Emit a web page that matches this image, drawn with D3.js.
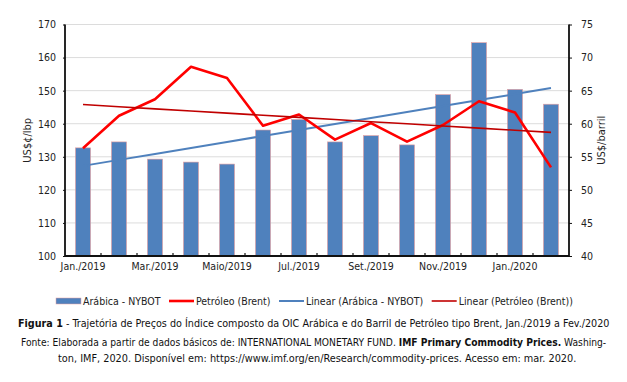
<!DOCTYPE html>
<html>
<head>
<meta charset="utf-8">
<script src="https://cdn.jsdelivr.net/npm/d3@7"></script>
<style>
  body { margin: 0; background: #fff; }
  svg { display: block; font-family: "DejaVu Sans", sans-serif; font-stretch: condensed; }
</style>
</head>
<body>
<div id="chart"></div>
<script>
(function() {
  'use strict';

  var months = ['Jan./2019', 'Fev./2019', 'Mar./2019', 'Abr./2019', 'Maio/2019', 'Jun./2019', 'Jul./2019',
                'Ago./2019', 'Set./2019', 'Out./2019', 'Nov./2019', 'Dez./2019', 'Jan./2020', 'Fev./2020'];
  var arabica = [132.7, 134.5, 129.3, 128.4, 127.8, 138.1, 141.3, 134.5, 136.4, 133.6, 148.8, 164.5, 150.4, 145.9];
  var brent = [56.3, 61.2, 63.7, 68.6, 66.9, 59.7, 61.4, 57.6, 60.1, 57.3, 59.8, 63.4, 61.7, 53.4];
  var leftTicks = [100, 110, 120, 130, 140, 150, 160, 170];
  var rightTicks = [40, 45, 50, 55, 60, 65, 70, 75];
  var legendLabels = ['Arábica - NYBOT', 'Petróleo (Brent)', 'Linear (Arábica - NYBOT)', 'Linear (Petróleo (Brent))'];

  var width = 627, height = 382,
      margin = {top: 24.5, right: 58, bottom: 126, left: 65};

  var svg = d3.select('#chart').append('svg')
    .attr('width', width)
    .attr('height', height);

  var x = d3.scaleBand()
    .domain(months)
    .range([margin.left, width - margin.right])
    .paddingInner(0.58)
    .paddingOuter(0.29);
  var yL = d3.scaleLinear().domain([100, 170]).range([height - margin.bottom, margin.top]);
  var yR = d3.scaleLinear().domain([40, 75]).range([height - margin.bottom, margin.top]);
  var cx = function(d, i) { return x(months[i]) + x.bandwidth() / 2; };

  // linear trend, like Excel's trendline
  function trend(vals) {
    var n = vals.length, mx = (n - 1) / 2, my = d3.mean(vals), sxy = 0, sxx = 0;
    vals.forEach(function(v, i) { sxy += (i - mx) * (v - my); sxx += (i - mx) * (i - mx); });
    var b = sxy / sxx;
    return vals.map(function(v, i) { return my + b * (i - mx); });
  }

  // shrink/grow a text's font so it spans the given width
  function fitWidth(t, size, target) {
    t.attr('font-size', size);
    var len = t.node().getComputedTextLength();
    t.attr('font-size', size * target / len);
  }

  // gridlines
  svg.append('g')
    .selectAll('line')
    .data(leftTicks.slice(1))
    .enter().append('line')
    .attr('x1', margin.left).attr('x2', width - margin.right)
    .attr('y1', function(d) { return yL(d); }).attr('y2', function(d) { return yL(d); })
    .attr('stroke', '#dcdcdc').attr('stroke-width', 1);

  // bars
  svg.append('g')
    .selectAll('rect')
    .data(arabica)
    .enter().append('rect')
    .attr('x', function(d, i) { return x(months[i]); })
    .attr('width', x.bandwidth())
    .attr('y', function(d) { return yL(d); })
    .attr('height', function(d) { return yL(100) - yL(d); })
    .attr('fill', '#4f81bd')
    .attr('stroke', '#e8a0a0').attr('stroke-width', 0.6);

  var line = d3.line().x(cx);

  svg.append('path')
    .datum(trend(arabica))
    .attr('d', line.y(function(d) { return yL(d); }))
    .attr('fill', 'none').attr('stroke', '#4f81bd').attr('stroke-width', 2);

  svg.append('path')
    .datum(brent)
    .attr('d', line.y(function(d) { return yR(d); }))
    .attr('fill', 'none').attr('stroke', '#ff0000').attr('stroke-width', 2.6)
    .attr('stroke-linejoin', 'round');

  svg.append('path')
    .datum(trend(brent))
    .attr('d', line.y(function(d) { return yR(d); }))
    .attr('fill', 'none').attr('stroke', '#c00000').attr('stroke-width', 1.6);

  // axes
  var axisColor = '#111';
  var gL = svg.append('g')
    .attr('transform', 'translate(' + margin.left + ',0)')
    .call(d3.axisLeft(yL).tickValues(leftTicks).tickSize(2).tickPadding(7));
  var gR = svg.append('g')
    .attr('transform', 'translate(' + (width - margin.right) + ',0)')
    .call(d3.axisRight(yR).tickValues(rightTicks).tickSize(3).tickPadding(9));
  var gB = svg.append('g')
    .attr('transform', 'translate(0,' + yL(100) + ')')
    .call(d3.axisBottom(x).tickValues(months.filter(function(d, i) { return i % 2 === 0; }))
      .tickSize(0).tickPadding(7));

  [gL, gR, gB].forEach(function(g) {
    g.select('.domain').remove();
    g.selectAll('line').attr('stroke', axisColor);
    g.selectAll('text').attr('font-size', 10.5).attr('fill', '#222')
      .style('font-family', '"DejaVu Sans", sans-serif');
  });

  // category boundary ticks (inside)
  svg.append('g')
    .selectAll('line')
    .data(d3.range(1, months.length))
    .enter().append('line')
    .attr('x1', function(i) { return margin.left + i * x.step(); })
    .attr('x2', function(i) { return margin.left + i * x.step(); })
    .attr('y1', yL(100)).attr('y2', yL(100) - 3)
    .attr('stroke', axisColor).attr('stroke-width', 1.2);

  svg.append('path')
    .attr('d', 'M' + margin.left + ',' + yL(170) + 'V' + yL(100) + 'H' + (width - margin.right) + 'V' + yR(75))
    .attr('fill', 'none').attr('stroke', axisColor).attr('stroke-width', 1.8);

  svg.append('text')
    .attr('transform', 'translate(31,' + yL(135) + ') rotate(-90)')
    .attr('text-anchor', 'middle').attr('font-size', 11).attr('fill', '#222')
    .style('font-family', '"DejaVu Sans", sans-serif')
    .text('US$¢/lbp');
  svg.append('text')
    .attr('transform', 'translate(605,' + yR(57.5) + ') rotate(-90)')
    .attr('text-anchor', 'middle').attr('font-size', 11).attr('fill', '#222')
    .style('font-family', '"DejaVu Sans", sans-serif')
    .text('US$/barril');

  // legend
  var legend = svg.append('g').attr('font-size', 10.5).attr('fill', '#222');
  var swatch = [
    {type: 'rect', color: '#4f81bd'},
    {type: 'line', color: '#ff0000', w: 2.6},
    {type: 'line', color: '#4f81bd', w: 2},
    {type: 'line', color: '#c00000', w: 1.6}
  ];
  var lx = 56, ly = 301;
  legendLabels.forEach(function(lab, i) {
    var s = swatch[i];
    if (s.type === 'rect') {
      legend.append('rect').attr('x', lx).attr('y', ly - 3).attr('width', 25).attr('height', 6)
        .attr('fill', s.color).attr('stroke', '#e8a0a0').attr('stroke-width', 0.5);
    } else {
      legend.append('line').attr('x1', lx).attr('x2', lx + 25).attr('y1', ly).attr('y2', ly)
        .attr('stroke', s.color).attr('stroke-width', s.w);
    }
    var t = legend.append('text').attr('x', lx + 27).attr('y', ly + 4).text(lab);
    lx += 27 + t.node().getComputedTextLength() + 8.5;
  });

  // caption
  var cap = svg.append('text').attr('x', 18).attr('y', 327).attr('fill', '#111');
  cap.append('tspan').attr('font-weight', 'bold').text('Figura 1');
  cap.append('tspan').text(' - Trajetória de Preços do Índice composto da OIC Arábica e do Barril de Petróleo tipo Brent, Jan./2019 a Fev./2020');
  fitWidth(cap, 11, 592);

  var f1 = svg.append('text').attr('x', 21).attr('y', 346).attr('fill', '#111');
  f1.append('tspan').text('Fonte: Elaborada a partir de dados básicos de: INTERNATIONAL MONETARY FUND. ');
  f1.append('tspan').attr('font-weight', 'bold').text('IMF Primary Commodity Prices.');
  f1.append('tspan').text(' Washing-');
  fitWidth(f1, 10.5, 586);

  var f2 = svg.append('text').attr('x', 58).attr('y', 362).attr('fill', '#111')
    .text('ton, IMF, 2020. Disponível em: https://www.imf.org/en/Research/commodity-prices. Acesso em: mar. 2020.');
  fitWidth(f2, 10.5, 519);
})();
</script>
</body>
</html>
